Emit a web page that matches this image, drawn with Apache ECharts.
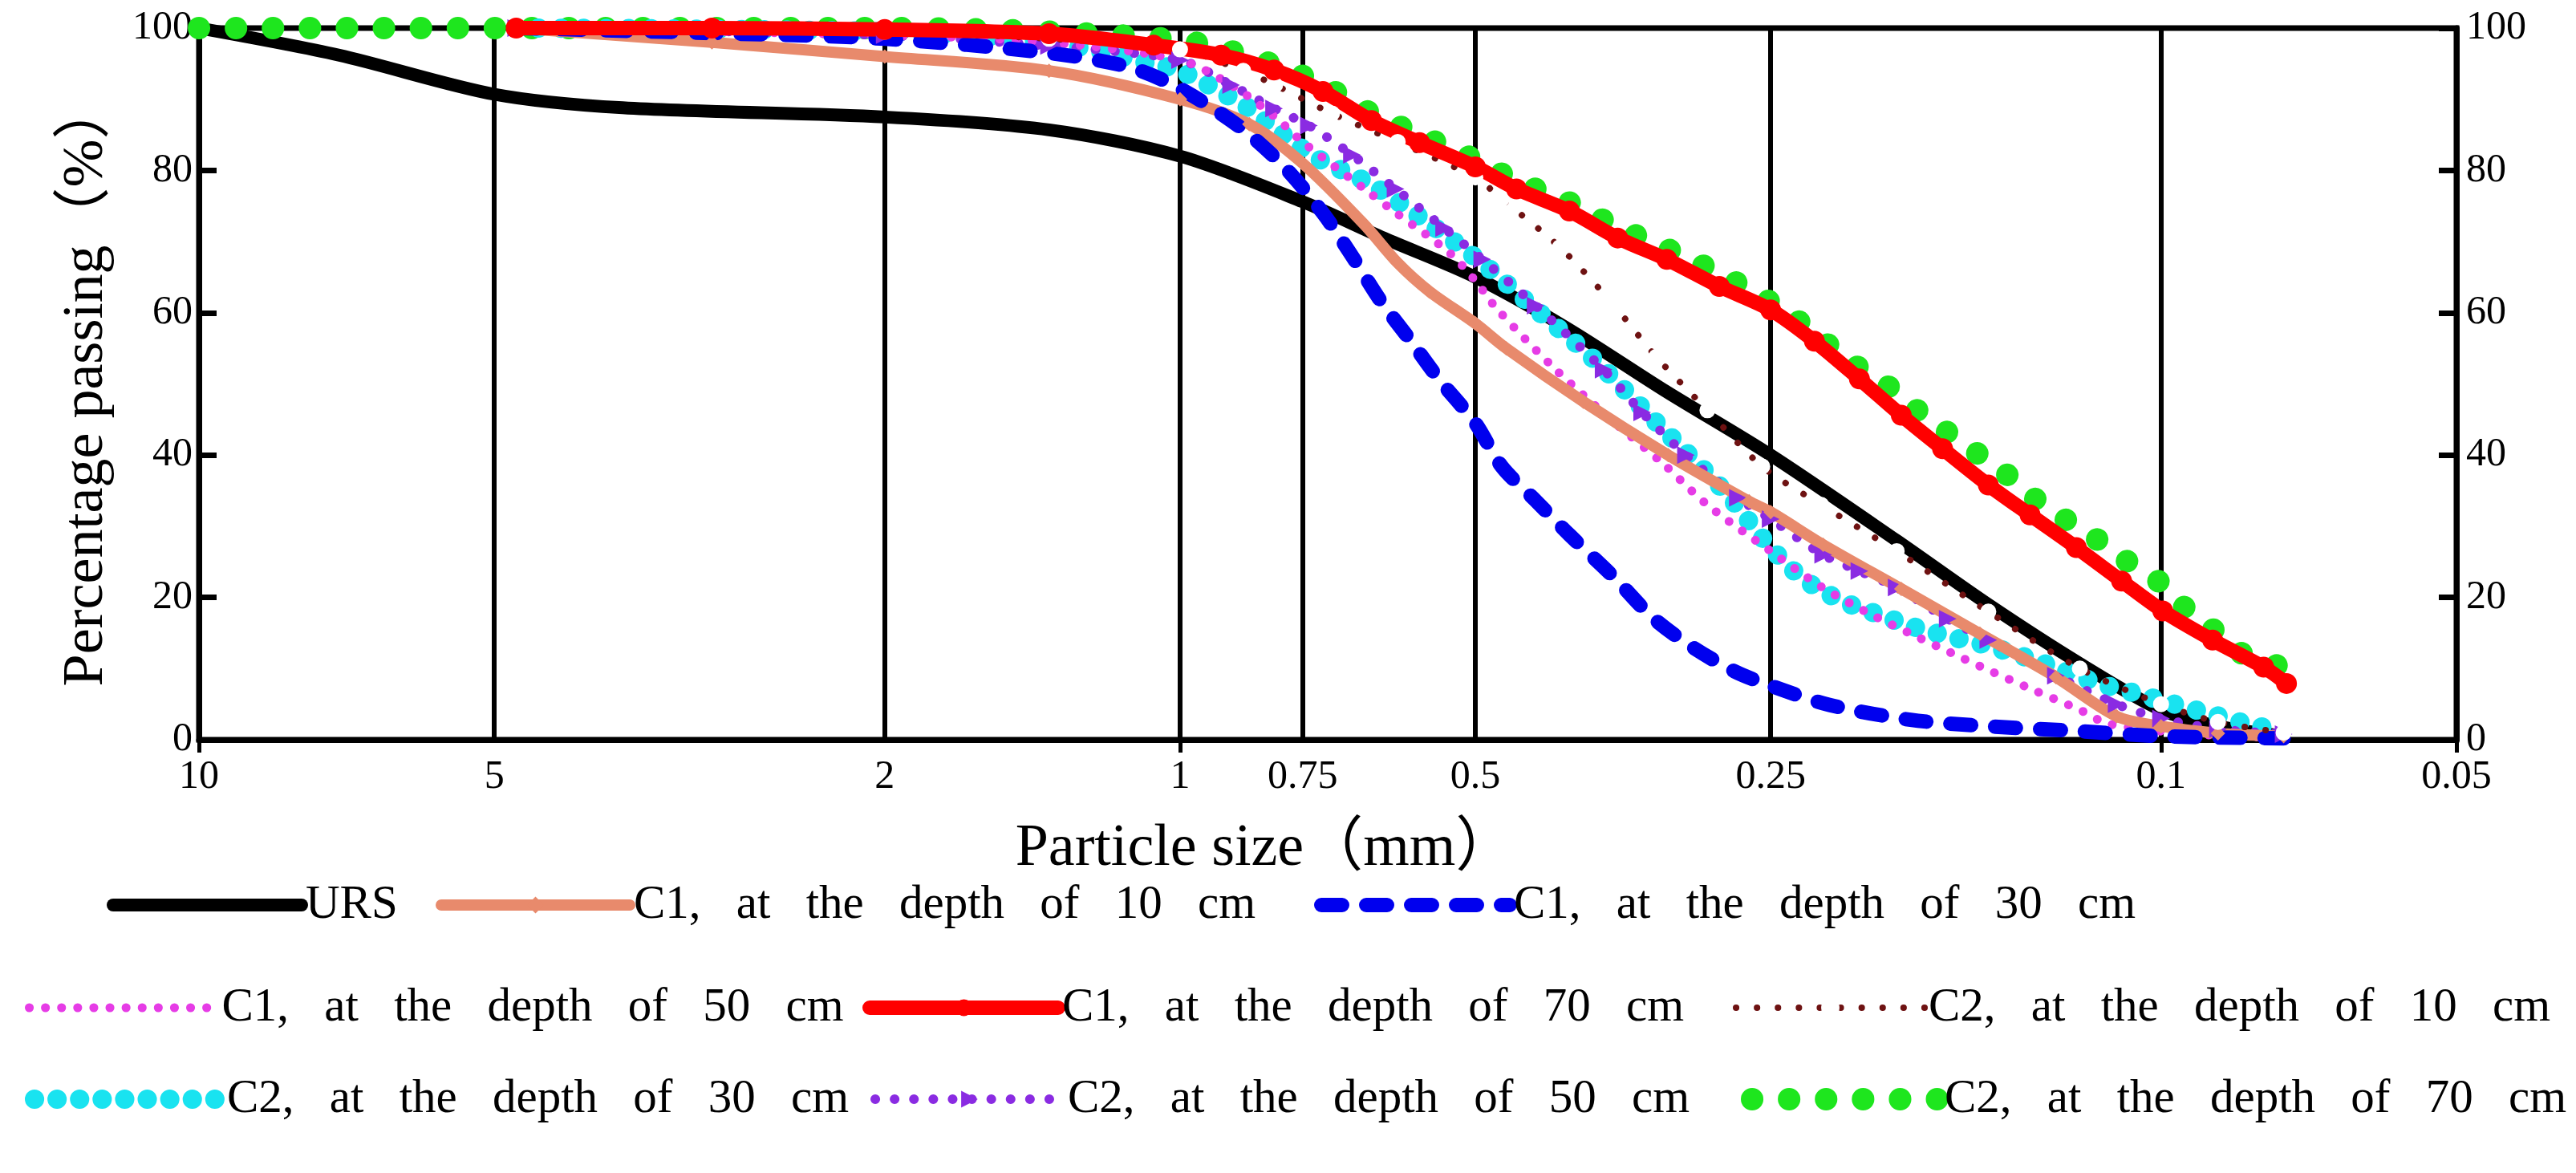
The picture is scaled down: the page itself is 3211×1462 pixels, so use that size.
<!DOCTYPE html>
<html>
<head>
<meta charset="utf-8">
<script src="https://cdn.jsdelivr.net/npm/echarts@6/dist/echarts.min.js"></script>
<style>
  html, body { margin: 0; padding: 0; background: #fff; }
  #chart { width: 3211px; height: 1462px; }
</style>
</head>
<body>
<div id="chart"></div>
<script>
// particle size (mm) and percentage passing
const sizeURS = [10, 7.2, 5, 3.7, 2, 1.36, 1, 0.75, 0.62, 0.5, 0.405, 0.32, 0.25, 0.186, 0.15, 0.121, 0.1, 0.0875, 0.075];
const passURS = [100, 96.2, 90.7, 88.8, 87.5, 85.7, 82, 75.6, 70.5, 65, 58, 49, 40, 28, 19, 10.7, 4.2, 1.9, 0.5];

const sizeC1d10 = [4.75, 3, 2, 1.36, 1, 0.85, 0.75, 0.65, 0.6, 0.557, 0.5, 0.465, 0.388, 0.318, 0.263, 0.25, 0.221, 0.184, 0.153, 0.128, 0.111, 0.1, 0.0875, 0.075];
const passC1d10 = [100, 98, 96, 94, 90, 86.5, 81, 72.5, 67, 63, 58.5, 55, 47.5, 40, 33.5, 32, 27.4, 21.2, 14.9, 8.8, 3.3, 1.9, 0.9, 0.5];

const sizeC1d30 = [4.75, 3, 2, 1.36, 1.126, 1, 0.867, 0.783, 0.715, 0.668, 0.624, 0.583, 0.545, 0.5, 0.47, 0.434, 0.401, 0.361, 0.33, 0.301, 0.272, 0.25, 0.218, 0.18, 0.15, 0.121, 0.1, 0.075];
const passC1d30 = [100, 99.3, 98.5, 96.5, 94.5, 91.5, 86, 80.5, 74, 68, 61.6, 56.2, 50.7, 44.5, 38.4, 33.6, 28.8, 22.8, 17.2, 13.1, 9.6, 7.6, 4.9, 2.8, 1.9, 1.2, 0.5, 0.2];

const sizeC1d50 = [4.75, 2, 1.36, 1, 0.887, 0.8, 0.75, 0.643, 0.61, 0.532, 0.5, 0.475, 0.414, 0.361, 0.323, 0.29, 0.25, 0.222, 0.2, 0.18, 0.163, 0.15, 0.135, 0.121, 0.1135, 0.1, 0.0875, 0.075];
const passC1d50 = [100, 99, 98, 95.5, 92, 87.5, 84, 77, 74.6, 68.5, 64.5, 60.5, 52, 44.6, 39, 33, 26.5, 21.5, 18, 14.9, 12.1, 9.8, 7, 4.2, 2.3, 1.2, 0.6, 0.3];

const sizeC1d70 = [4.75, 3, 2, 1.36, 1.064, 0.908, 0.802, 0.715, 0.638, 0.57, 0.5, 0.454, 0.401, 0.358, 0.319, 0.282, 0.25, 0.2256, 0.203, 0.184, 0.167, 0.15, 0.136, 0.122, 0.1097, 0.0996, 0.0886, 0.0786, 0.0745];
const passC1d70 = [100, 100, 99.8, 99.2, 97.6, 96.2, 94.1, 91.1, 87, 83.9, 80.5, 77.4, 74.3, 70.5, 67.5, 63.7, 60.4, 56, 50.7, 45.6, 40.9, 35.8, 31.6, 27, 22.3, 18.1, 14, 10.2, 7.9];

const sizeC2d10 = [4.75, 2, 1.36, 1, 0.862, 0.8, 0.7, 0.6, 0.5, 0.47, 0.41, 0.364, 0.327, 0.29, 0.255, 0.222, 0.186, 0.15, 0.121, 0.1, 0.0875, 0.075];
const passC2d10 = [100, 99.5, 98.5, 97, 94, 92, 88, 84, 79, 76, 69.2, 61.6, 53.8, 46.3, 38.4, 33, 26.5, 18, 10, 5, 2.5, 1];

const sizeC2d30 = [4.75, 2, 1.36, 1.072, 1, 0.857, 0.802, 0.731, 0.638, 0.557, 0.492, 0.434, 0.379, 0.327, 0.279, 0.25, 0.231, 0.2115, 0.195, 0.178, 0.163, 0.15, 0.1375, 0.126, 0.1157, 0.106, 0.0975, 0.0894, 0.082, 0.075];
const passC2d30 = [100, 99.5, 98, 95, 94, 89, 86, 82, 78, 72.5, 67, 60.5, 53.5, 44.6, 35, 27, 22.5, 19.5, 17.7, 15.8, 14.4, 13.2, 11.6, 9.8, 7.9, 6.5, 5.1, 3.7, 2.3, 1.2];

const sizeC2d50 = [4.75, 2, 1.36, 1, 0.887, 0.802, 0.739, 0.668, 0.603, 0.538, 0.492, 0.434, 0.37, 0.338, 0.305, 0.27, 0.25, 0.221, 0.203, 0.186, 0.165, 0.15, 0.128, 0.111, 0.1, 0.0875, 0.075];
const passC2d50 = [100, 99, 97.5, 95.5, 92, 88.7, 86.3, 82.2, 77.4, 71.9, 67.5, 61, 52, 46, 40, 34, 31, 26, 23.7, 21.4, 17, 14, 9, 5, 3, 1.5, 0.8];

const sizeC2d70 = [10, 9.5, 8.7, 8, 7.34, 6.75, 6.18, 5.68, 5.21, 4.81, 4.42, 3, 2, 1.36, 1, 0.9, 0.8, 0.715, 0.638, 0.57, 0.5, 0.454, 0.401, 0.358, 0.319, 0.282, 0.25, 0.233, 0.207, 0.192, 0.18, 0.167, 0.1565, 0.146, 0.136, 0.126, 0.118, 0.1097, 0.1, 0.0965, 0.0904, 0.084, 0.078, 0.075];
const passC2d70 = [100, 100, 100, 100, 100, 100, 100, 100, 100, 100, 100, 100, 100, 99.5, 98.3, 97, 94.8, 92, 88, 85, 81.5, 78.5, 75.5, 72, 69, 65.5, 61.5, 58.6, 53, 50.2, 47, 43.7, 40.9, 38.1, 34.4, 31.2, 28.8, 25.6, 22, 19.5, 16.7, 12.6, 11, 10];

// x axis tick labels (mm)
const sizeTicks = [10, 5, 2, 1, 0.75, 0.5, 0.25, 0.1, 0.05];

const FONT = "'Liberation Serif', 'Noto Sans CJK SC', serif";

// series table: name, data arrays, look (drawing order = array order)
const seriesSpec = [
  { name: 'URS', x: sizeURS, y: passURS, color: '#000000', width: 16, type: 'solid', symbol: 'none' },
  { name: 'C2, at the depth of 70 cm', x: sizeC2d70, y: passC2d70, color: '#1EE61E', width: 28, type: [0.1, 46], symbol: 'none' },
  { name: 'C2, at the depth of 30 cm', x: sizeC2d30, y: passC2d30, color: '#19E3F0', width: 24, type: [0.1, 28], symbol: 'none' },
  { name: 'C2, at the depth of 50 cm', x: sizeC2d50, y: passC2d50, color: '#8A2BE2', width: 12, type: [0.1, 24], symbol: 'triangle', symbolSize: 22, symbolRotate: -90 },
  { name: 'C1, at the depth of 50 cm', x: sizeC1d50, y: passC1d50, color: '#E63CE6', width: 11, type: [0.1, 20], symbol: 'none' },
  { name: 'C1, at the depth of 10 cm', x: sizeC1d10, y: passC1d10, color: '#E88A6C', width: 14, type: 'solid', symbol: 'diamond', symbolSize: 18 },
  { name: 'C1, at the depth of 30 cm', x: sizeC1d30, y: passC1d30, color: '#0000EE', width: 18, type: [26, 30], symbol: 'none' },
  { name: 'C2, at the depth of 10 cm', x: sizeC2d10, y: passC2d10, color: '#6E1212', width: 8, type: [0.1, 26], symbol: 'emptyCircle', symbolSize: 18 },
  { name: 'C1, at the depth of 70 cm', x: sizeC1d70, y: passC1d70, color: '#FF0000', width: 18, type: 'solid', symbol: 'circle', symbolSize: 26 }
];

// legend placement, three rows under the plot
const legendRows = [
  { name: 'URS', left: 133, top: 1093 },
  { name: 'C1, at the depth of 10 cm', left: 543, top: 1093 },
  { name: 'C1, at the depth of 30 cm', left: 1638, top: 1093 },
  { name: 'C1, at the depth of 50 cm', left: 31, top: 1221 },
  { name: 'C1, at the depth of 70 cm', left: 1075, top: 1221 },
  { name: 'C2, at the depth of 10 cm', left: 2160, top: 1221 },
  { name: 'C2, at the depth of 30 cm', left: 31, top: 1335 },
  { name: 'C2, at the depth of 50 cm', left: 1085, top: 1335 },
  { name: 'C2, at the depth of 70 cm', left: 2170, top: 1335 }
];

const chart = echarts.init(document.getElementById('chart'), null, { renderer: 'canvas' });

const series = seriesSpec.map((s, idx) => {
  const item = {
    name: s.name,
    type: 'line',
    xAxisIndex: 0,
    yAxisIndex: 0,
    smooth: 0.3,
    data: s.x.map((v, i) => [v, s.y[i]]),
    symbol: s.symbol,
    symbolSize: s.symbolSize || 0,
    symbolRotate: s.symbolRotate || 0,
    showSymbol: s.symbol !== 'none',
    lineStyle: { color: s.color, width: s.width, type: s.type, cap: 'round', join: 'round' },
    itemStyle: s.symbol === 'emptyCircle'
      ? { color: '#ffffff', borderColor: s.color, borderWidth: 4 }
      : { color: s.color, borderWidth: 0 },
    emphasis: { disabled: true },
    z: 3
  };
  if (idx === 0) {
    // vertical sieve lines with their size labels under the axis
    item.markLine = {
      silent: true,
      z: 1,
      symbol: ['none', 'none'],
      animation: false,
      lineStyle: { color: '#000', width: 6, type: 'solid' },
      label: {
        show: true,
        position: 'start',
        distance: 22,
        formatter: '{b}',
        color: '#000',
        fontFamily: FONT,
        fontSize: 50
      },
      emphasis: { disabled: true },
      data: sizeTicks.map(v => {
        const d = { xAxis: v, name: String(v) };
        if (v === 10 || v === 0.05) d.lineStyle = { color: 'rgba(0,0,0,0)' };
        return d;
      })
    };
  }
  return item;
});

const legends = legendRows.map(r => {
  const spec = seriesSpec.find(s => s.name === r.name);
  return {
    data: [r.name],
    left: r.left,
    top: r.top,
    orient: 'horizontal',
    padding: 0,
    itemWidth: 235,
    itemHeight: 26,
    selectedMode: false,
    formatter: name => name.split(' ').join('   '),
    lineStyle: { width: spec.width },
    itemStyle: spec.symbol === 'none' ? { opacity: 0 } : {},
    textStyle: { fontFamily: FONT, fontSize: 59, color: '#000', lineHeight: 70 }
  };
});

const option = {
  animation: false,
  backgroundColor: '#ffffff',
  grid: {
    left: 248,
    right: 149,
    top: 35,
    bottom: 540,
    show: true,
    borderColor: '#000',
    borderWidth: 7,
    backgroundColor: 'transparent'
  },
  legend: legends,
  xAxis: [{
    type: 'log',
    logBase: 10,
    min: 0.04999,
    max: 10.001,
    inverse: true,
    name: 'Particle size（mm）',
    nameLocation: 'middle',
    nameGap: 100,
    nameTextStyle: { fontFamily: FONT, fontSize: 74, color: '#000', padding: [0, 156, 0, 0] },
    axisLine: { show: true, lineStyle: { color: '#000', width: 7 } },
    axisTick: { show: true, inside: false, length: 16, lineStyle: { color: '#000', width: 5 } },
    axisLabel: { show: false },
    splitLine: { show: false }
  }],
  yAxis: [{
    type: 'value',
    min: 0,
    max: 100,
    interval: 20,
    position: 'left',
    name: 'Percentage passing（%）',
    nameLocation: 'middle',
    nameGap: 104,
    nameTextStyle: { fontFamily: FONT, fontSize: 72, color: '#000' },
    axisLine: { show: true, lineStyle: { color: '#000', width: 7 } },
    axisTick: { show: true, inside: true, length: 22, lineStyle: { color: '#000', width: 7 } },
    axisLabel: { fontFamily: FONT, fontSize: 50, color: '#000', margin: 8 },
    splitLine: { show: false }
  }, {
    type: 'value',
    min: 0,
    max: 100,
    interval: 20,
    position: 'right',
    axisLine: { show: true, lineStyle: { color: '#000', width: 7 } },
    axisTick: { show: true, inside: true, length: 22, lineStyle: { color: '#000', width: 7 } },
    axisLabel: { fontFamily: FONT, fontSize: 50, color: '#000', margin: 12 },
    splitLine: { show: false }
  }],
  series: series
};

chart.setOption(option);
</script>
</body>
</html>
